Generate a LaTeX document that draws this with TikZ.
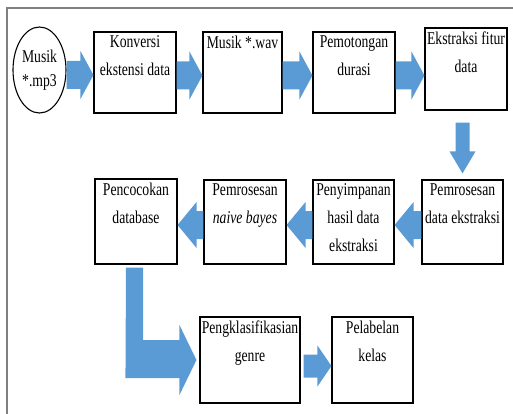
\documentclass[tikz,border=0pt]{standalone}
\usepackage{fontspec}
\setmainfont{Liberation Serif}[FakeStretch=0.76]
\usetikzlibrary{calc,shapes.geometric}
\definecolor{arrowblue}{HTML}{5B9BD5}
\definecolor{framegray}{HTML}{7F7F7F}
\tikzset{
  box/.style={draw, line width=1.1pt, minimum width=82pt, minimum height=81pt, inner sep=0pt},
  hd/.style={anchor=north, align=center, inner sep=4pt, font=\fontsize{18pt}{28pt}\selectfont},
  % block arrow: half shaft / half head / head length
  blk/.style args={#1/#2/#3}{to path={
    let \p1=($(\tikztotarget)!#3!(\tikztostart)$) in
    ($(\tikztostart)!#1!90:(\tikztotarget)$) -- ($(\p1)!#1!90:(\tikztotarget)$)
    -- ($(\p1)!#2!90:(\tikztotarget)$) -- (\tikztotarget) -- ($(\p1)!#2!-90:(\tikztotarget)$)
    -- ($(\p1)!#1!-90:(\tikztotarget)$) -- ($(\tikztostart)!#1!-90:(\tikztotarget)$) -- cycle}},
  flow/.style={fill=arrowblue, blk=14pt/24pt/13pt},
  back/.style={fill=arrowblue, blk=14pt/23pt/19pt}
}
\begin{document}
\begin{tikzpicture}[x=1pt, y=-1pt]
  \useasboundingbox (0,0) rectangle (513,414);
  \clip (0,0) rectangle (513,414);
  \draw[framegray, line width=1.8pt] (7,8) rectangle (540,440);

  % first row
  \node[draw, ellipse, line width=1.1pt, minimum width=53pt, minimum height=86pt, inner sep=0pt,
        align=center, font=\fontsize{18pt}{24pt}\selectfont] (mp3) at (39.5,70) {Musik\\{}*.mp3};
  \node[box, label={[hd]north:Konversi\\ekstensi data}] (konv) at (135,72.5) {};
  \node[box, minimum width=79pt, label={[hd]north:Musik *.wav}] (wav) at (242.5,72.5) {};
  \node[box, label={[hd]north:Pemotongan\\durasi}] (pot) at (354,72.5) {};
  \node[box, minimum height=82pt, label={[hd]north:Ekstraksi fitur\\data}] (eks) at (466,69) {};

  % second row
  \node[box, minimum width=81pt, minimum height=84pt, label={[hd]north:Pemrosesan\\data ekstraksi}] (pde) at (462.5,222) {};
  \node[box, minimum width=81pt, minimum height=84pt, label={[hd]north:Penyimpanan\\hasil data\\ekstraksi}] (simpan) at (353.5,222) {};
  \node[box, minimum height=84pt, label={[hd]north:Pemrosesan\\\textit{naive bayes}}] (bayes) at (245,222) {};
  \node[box, minimum height=85pt, label={[hd]north:Pencocokan\\database}] (cocok) at (136,221.5) {};

  % third row
  \node[box, minimum width=100pt, minimum height=86pt, label={[hd]north:Pengklasifikasian\\genre}] (klas) at (250,360) {};
  \node[box, minimum width=81pt, minimum height=86pt, label={[hd]north:Pelabelan\\kelas}] (lab) at (372.5,360) {};

  % arrows
  \path[flow] ([yshift=-5pt]mp3.east) to ([yshift=-5pt]mp3.east -| konv.west);
  \path[flow] ([yshift=-3pt]konv.east) to ([yshift=-3pt]konv.east -| wav.west);
  \path[flow] ([yshift=-3pt]wav.east) to ([yshift=-3pt]wav.east -| pot.west);
  \path[flow] ([yshift=-3pt]pot.east) to ([yshift=-3pt]pot.east -| eks.west);
  \path[fill=arrowblue, blk=7pt/13pt/22pt] ($(eks.south -| pde.north)+(0,12)$) to ($(pde.north)+(0,-6)$);
  \path[back] ([yshift=-3pt]pde.west) to ([yshift=-3pt]pde.west -| simpan.east);
  \path[back] ([yshift=-3pt]simpan.west) to ([yshift=-3pt]simpan.west -| bayes.east);
  \path[back] ([yshift=-3pt]bayes.west) to ([yshift=-3pt]bayes.west -| cocok.east);
  \fill[arrowblue] ($(cocok.south)+(-10,3)$) -- ++(17,0) |- ($(klas.west)+(-20,-20)$) -- ++(0,-15)
    -- ($(klas.west)+(-3,0)$) -- ++(-17,35) -- ++(0,-17) -- ++(-54,0) -- cycle;
  \path[fill=arrowblue, blk=11.5pt/20.5pt/14pt] ($(klas.east)+(3,6)$) to ($(klas.east -| lab.west)+(0,6)$);
\end{tikzpicture}
\end{document}
